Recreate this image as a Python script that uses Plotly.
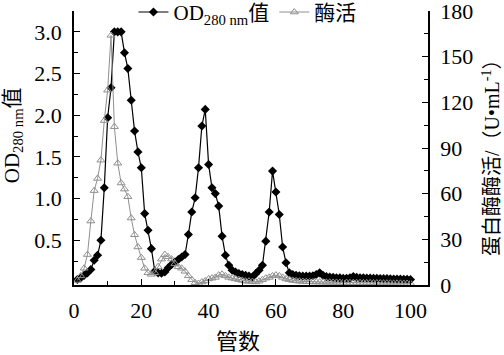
import plotly.graph_objects as go

tubes = list(range(1, 101))

od280 = [
    0.03, 0.05, 0.08, 0.11, 0.15, 0.26, 0.32, 0.50, 1.13, 1.97,
    2.33, 3.00, 3.00, 3.00, 2.75, 2.56, 2.18, 1.81, 1.56, 1.37,
    0.82, 0.62, 0.40, 0.13, 0.11, 0.105, 0.12, 0.17, 0.21, 0.24,
    0.27, 0.30, 0.33, 0.57, 0.84, 1.01, 1.37, 1.87, 2.07, 1.41,
    1.13, 1.06, 0.91, 0.55, 0.32, 0.20, 0.14, 0.12, 0.10, 0.09,
    0.08, 0.07, 0.06, 0.10, 0.14, 0.20, 0.49, 0.84, 1.33, 1.08,
    0.81, 0.42, 0.23, 0.11, 0.09, 0.08, 0.075, 0.07, 0.07, 0.07,
    0.075, 0.09, 0.11, 0.08, 0.065, 0.06, 0.055, 0.05, 0.05, 0.045,
    0.045, 0.05, 0.065, 0.055, 0.05, 0.05, 0.048, 0.046, 0.045, 0.044,
    0.042, 0.04, 0.04, 0.038, 0.036, 0.035, 0.034, 0.033, 0.032, 0.03,
]

enzyme = [
    3, 6, 11, 20, 42, 62, 70, 82, 108, 128,
    164, 104, 80, 67, 63, 58, 44, 33, 25, 18,
    11, 8, 7, 8, 12, 17, 20, 18.5, 17, 14,
    12, 11, 9, 6, 3.5, 1.5, 1, 2, 2.7, 4,
    4.5, 5, 6.5, 7, 6, 5, 4.5, 4, 3.5, 3,
    2.5, 2.5, 2.3, 2, 2.5, 3.5, 4.5, 5, 6, 6.5,
    6, 5, 4, 3.5, 3, 2.7, 2.5, 2.3, 2.2, 2.1,
    2, 2, 1.9, 1.9, 1.8, 1.8, 1.7, 1.7, 1.6, 1.6,
    1.6, 1.5, 1.5, 1.5, 1.5, 1.4, 1.4, 1.4, 1.3, 1.3,
    1.3, 1.2, 1.2, 1.2, 1.1, 1.1, 1.1, 1.0, 1.0, 1.0,
]

od_ticks = [0.5, 1.0, 1.5, 2.0, 2.5, 3.0]
od_ticktext = ["0.5", "1.0", "1.5", "2.0", "2.5", "3.0"]
od_minor = [0.25, 0.75, 1.25, 1.75, 2.25, 2.75]
x_ticks = [0, 20, 40, 60, 80, 100]
y2_ticks = [0, 30, 60, 90, 120, 150, 180]
y2_minor = [15, 45, 75, 105, 135, 165]

x_title = "管数"
y_title = "OD<sub>280 nm</sub>值"
y2_title = "蛋白酶酶活/（U•mL<sup>-1</sup>）"

FONT = "Liberation Serif, Times New Roman, Noto Sans CJK SC, serif"

fig = go.Figure()
fig.add_trace(go.Scatter(
    x=tubes, y=od280, name="OD<sub>280 nm</sub>值", mode="lines+markers",
    line=dict(color="black", width=1.2),
    marker=dict(symbol="diamond", size=7, color="black"),
))
fig.add_trace(go.Scatter(
    x=tubes, y=enzyme, name="酶活", mode="lines+markers", yaxis="y2",
    line=dict(color="#8f8f8f", width=1),
    marker=dict(symbol="triangle-up-open", size=7, color="#8f8f8f", line=dict(width=1)),
))

fig.update_layout(
    width=504, height=355,
    margin=dict(l=74, r=76, t=11, b=70, pad=0, autoexpand=False),
    paper_bgcolor="white", plot_bgcolor="white",
    font=dict(family=FONT, size=22, color="black"),
    showlegend=True,
    legend=dict(orientation="h", x=0.49, xanchor="center", y=0.995, yanchor="middle",
                bgcolor="rgba(0,0,0,0)", font=dict(size=21), itemwidth=30,
                tracegroupgap=0),
    xaxis=dict(
        range=[0, 105.2], tickvals=x_ticks, ticks="inside", ticklen=6, tickwidth=1.2,
        minor=dict(dtick=10, tick0=0, ticks="inside", ticklen=4, tickwidth=1.2, tickcolor="black"),
        showline=True, linecolor="black", linewidth=1.5, mirror=False,
        showgrid=False, zeroline=False, tickcolor="black",
        ticklabelstandoff=5, ticklabeloverflow="allow",
    ),
    yaxis=dict(
        range=[-0.036, 3.25], tickvals=od_ticks, ticktext=od_ticktext,
        ticks="inside", ticklen=6, tickwidth=1.2, tickcolor="black",
        minor=dict(tickvals=od_minor, ticks="inside", ticklen=4, tickwidth=1.2, tickcolor="black"),
        showline=True, linecolor="black", linewidth=1.5,
        showgrid=False, zeroline=False, ticklabelstandoff=6, ticklabeloverflow="allow",
    ),
    yaxis2=dict(
        range=[0, 180], tickvals=y2_ticks, overlaying="y", side="right",
        ticks="inside", ticklen=6, tickwidth=1.2, tickcolor="black",
        minor=dict(tickvals=y2_minor, ticks="inside", ticklen=4, tickwidth=1.2, tickcolor="black"),
        showline=True, linecolor="black", linewidth=1.5,
        showgrid=False, zeroline=False, ticklabelstandoff=6, ticklabeloverflow="allow",
    ),
    annotations=[
        dict(text=x_title, xref="paper", yref="paper", x=0.463, y=-0.208,
             xanchor="center", yanchor="middle", showarrow=False, font=dict(size=22)),
        dict(text=y_title, xref="paper", yref="paper", x=-0.172, y=0.547, textangle=-90,
             xanchor="center", yanchor="middle", showarrow=False, font=dict(size=21)),
        dict(text=y2_title, xref="paper", yref="paper", x=1.178, y=0.482, textangle=-90,
             xanchor="center", yanchor="middle", showarrow=False, font=dict(size=20)),
    ],
)

fig.write_html("out.html", config={"displayModeBar": False},
               post_script="document.body.style.margin='0';")
